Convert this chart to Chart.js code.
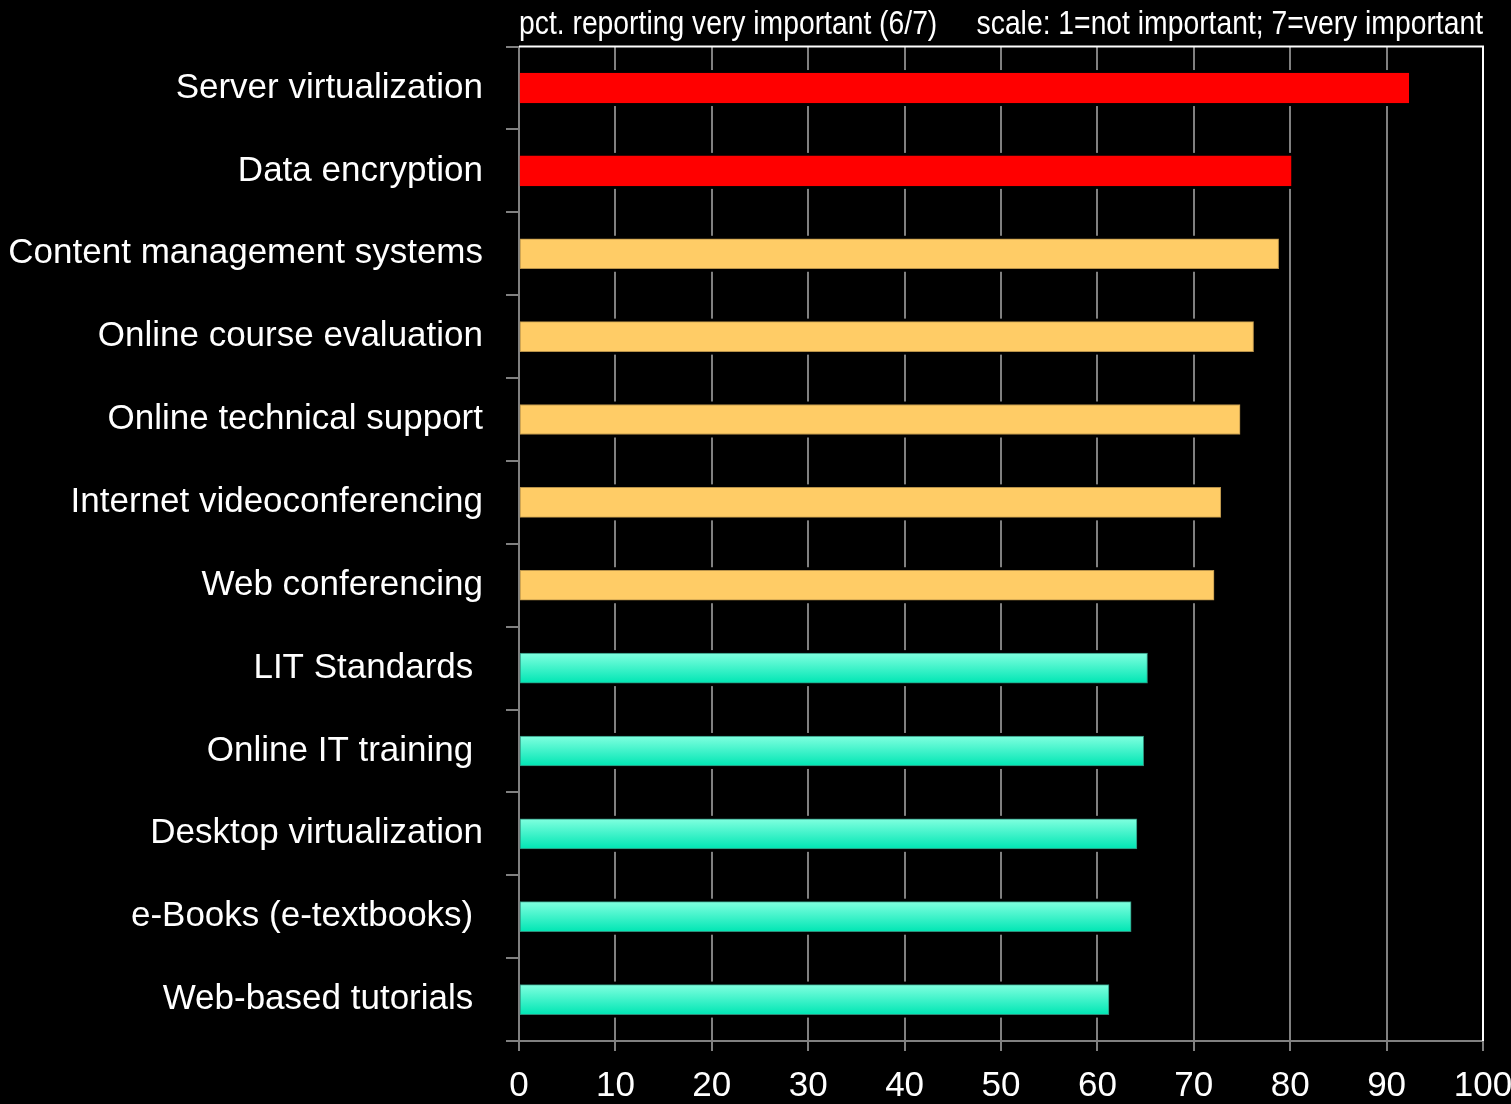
<!DOCTYPE html>
<html>
<head>
<meta charset="utf-8">
<script src="https://cdn.jsdelivr.net/npm/chart.js@4/dist/chart.umd.min.js"></script>
<style>
  html, body { margin: 0; padding: 0; background: #000; }
  #grafico { display: block; }
</style>
</head>
<body>
<canvas id="grafico" width="1511" height="1104"></canvas>
<script>
// Datos
const categorias = [
    'Server virtualization',
    'Data encryption',
    'Content management systems',
    'Online course evaluation',
    'Online technical support',
    'Internet videoconferencing',
    'Web conferencing',
    'LIT Standards ',
    'Online IT training ',
    'Desktop virtualization',
    'e-Books (e-textbooks) ',
    'Web-based tutorials '
];
const valores = [92.3, 80.1, 78.8, 76.2, 74.8, 72.8, 72.1, 65.2, 64.8, 64.1, 63.5, 61.2];
const grupos = ['alto', 'alto', 'medio', 'medio', 'medio', 'medio', 'medio', 'bajo', 'bajo', 'bajo', 'bajo', 'bajo'];
const ticksX = [0, 10, 20, 30, 40, 50, 60, 70, 80, 90, 100];
const titulo = 'pct. reporting very important (6/7)     scale: 1=not important; 7=very important';

const fuente = "'Liberation Sans', Arial, sans-serif";
const gris = '#808080';

// Color segun grupo (el verde lleva degradado)
function colorBarra(ctx) {
    const g = grupos[ctx.dataIndex];
    if (g === 'alto') return '#FF0000';
    if (g === 'medio') return '#FFCC66';
    const escalaY = ctx.chart.scales.y;
    const y = escalaY ? escalaY.getPixelForValue(ctx.dataIndex) : NaN;
    if (!isFinite(y)) return '#40F0C8';
    const grad = ctx.chart.ctx.createLinearGradient(0, y - 15, 0, y + 15);
    grad.addColorStop(0, '#80FFDF');
    grad.addColorStop(1, '#00E6B4');
    return grad;
}

function bordeBarra(ctx) {
    const g = grupos[ctx.dataIndex];
    if (g === 'alto') return '#FF0000';
    if (g === 'medio') return '#B8924A';
    return '#2E8C78';
}

// Halo negro alrededor de cada barra (corta las lineas de la grilla)
const haloBarras = {
    id: 'haloBarras',
    beforeDatasetsDraw(chart) {
        const c = chart.ctx;
        c.save();
        c.fillStyle = '#000';
        chart.getDatasetMeta(0).data.forEach(bar => {
            const h = bar.height / 2;
            c.fillRect(bar.base + 1, bar.y - h - 3, bar.x - bar.base + 2, bar.height + 6);
        });
        c.restore();
    }
};

// Borde blanco arriba y a la derecha del area del grafico
const bordeArea = {
    id: 'bordeArea',
    afterDraw(chart) {
        const a = chart.chartArea;
        const c = chart.ctx;
        c.save();
        c.strokeStyle = '#FFFFFF';
        c.lineWidth = 2;
        c.beginPath();
        c.moveTo(a.left, a.top);
        c.lineTo(a.right, a.top);
        c.lineTo(a.right, a.bottom);
        c.stroke();
        c.restore();
    }
};

const ctx = document.getElementById('grafico').getContext('2d');
const miGrafico = new Chart(ctx, {
    type: 'bar',
    data: {
        labels: categorias,
        datasets: [{
            data: valores,
            backgroundColor: colorBarra,
            borderColor: bordeBarra,
            borderWidth: 1,
            borderSkipped: false,
            barThickness: 30
        }]
    },
    options: {
        indexAxis: 'y',
        responsive: false,
        animation: false,
        layout: { padding: { left: 0, right: 28, top: 0, bottom: 0 } },
        plugins: {
            legend: { display: false },
            tooltip: { enabled: false },
            title: {
                display: true,
                text: titulo,
                color: '#FFFFFF',
                fullSize: false,
                font: { family: fuente, size: 33, weight: 'normal' },
                padding: { top: 5, bottom: 2 }
            }
        },
        scales: {
            x: {
                min: 0,
                max: 100,
                afterFit(scale) {
                    scale.height = 63;
                    scale.paddingRight = 0;
                },
                afterBuildTicks(scale) { scale.ticks = ticksX.map(v => ({ value: v })); },
                grid: {
                    color: gris,
                    lineWidth: 2,
                    tickLength: 10,
                    tickColor: gris
                },
                border: { color: gris, width: 2 },
                ticks: {
                    color: '#FFFFFF',
                    font: { family: fuente, size: 35 },
                    padding: 14,
                    maxRotation: 0,
                    autoSkip: false
                }
            },
            y: {
                afterFit(scale) { scale.width = 519; },
                grid: {
                    drawOnChartArea: false,
                    drawTicks: true,
                    tickLength: 13,
                    color: gris,
                    lineWidth: 2
                },
                border: { color: gris, width: 2 },
                ticks: {
                    color: '#FFFFFF',
                    font: { family: fuente, size: 35 },
                    padding: 23,
                    autoSkip: false
                }
            }
        }
    },
    plugins: [haloBarras, bordeArea]
});
</script>
</body>
</html>
